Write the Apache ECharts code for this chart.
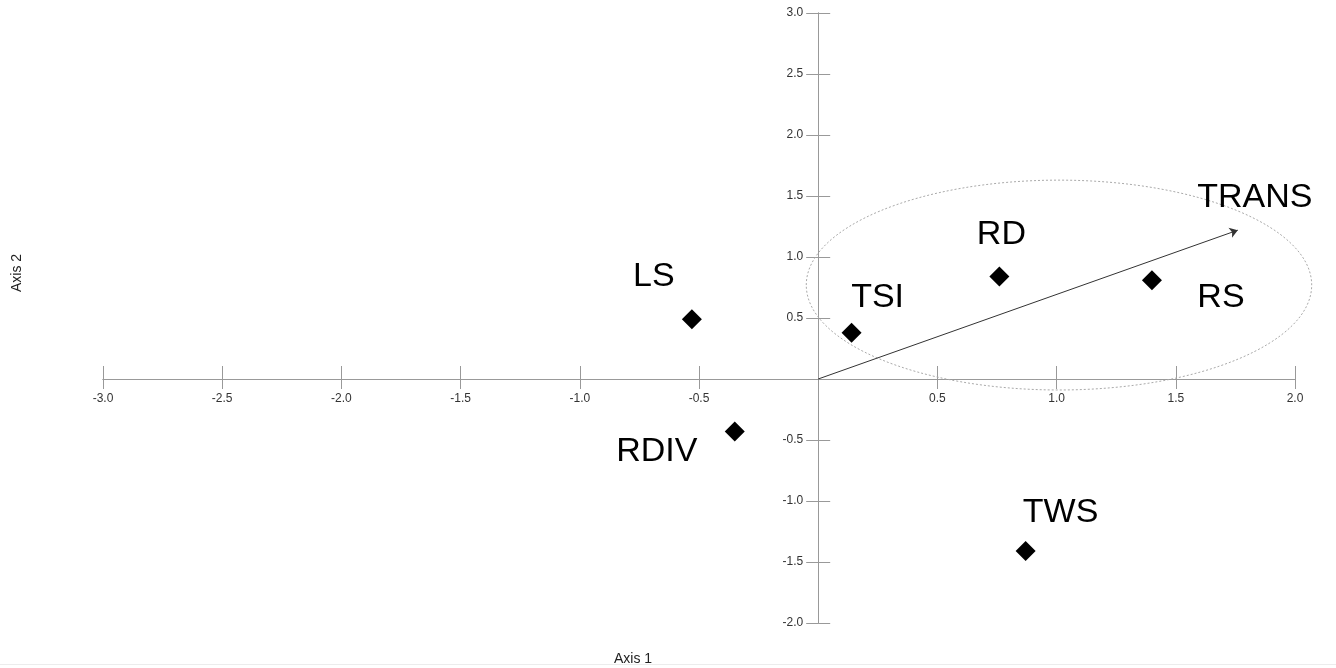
<!DOCTYPE html>
<html>
<head>
<meta charset="utf-8">
<title>Ordination plot</title>
<script src="https://cdn.jsdelivr.net/npm/echarts@6/dist/echarts.min.js"></script>
<style>
  html, body { margin: 0; padding: 0; background: #fff; }
  #chart { width: 1336px; height: 668px; }
</style>
</head>
<body>
<div id="chart"></div>
<script>
// variable scores on the two ordination axes
const variables = ['LS', 'TSI', 'RD', 'RS', 'RDIV', 'TWS'];
const axis1Scores = [-0.53, 0.14, 0.76, 1.40, -0.35, 0.87];
const axis2Scores = [0.49, 0.38, 0.84, 0.81, -0.43, -1.41];

// fitted vector (drawn from the origin)
const vectorNames = ['TRANS'];
const vectorAxis1 = [1.76];
const vectorAxis2 = [1.22];

// dotted ellipse: centre and radii in axis units
const ellipseCentre = [1.01, 0.77];
const ellipseRadii = [1.06, 0.86];

const axis1Range = [-3, 2];
const axis2Range = [-2, 3];
const tickStep = 0.5;

// label placement (pixels, relative to the marker)
const labelOffsets = {
  LS: [-38, -43], TSI: [26, -35], RD: [2, -42], RS: [69, 17],
  RDIV: [-78, 20], TWS: [35, -38], TRANS: [17, -33]
};

const FONT = '"Liberation Sans", Arial, sans-serif';
const axisGrey = '#999';

const W = 1336, H = 668;
const grid = { left: 103, right: 41, top: 13, bottom: 45 };
const plotW = W - grid.left - grid.right;
const plotH = H - grid.top - grid.bottom;

// pixel distance from each grid edge to the zero line (axes cross at the origin)
const zeroFromLeft = plotW * (0 - axis1Range[0]) / (axis1Range[1] - axis1Range[0]);
const zeroFromRight = plotW - zeroFromLeft;
const zeroFromTop = plotH * (axis2Range[1] - 0) / (axis2Range[1] - axis2Range[0]);
const zeroFromBottom = plotH - zeroFromTop;

const chart = echarts.init(document.getElementById('chart'));

// each axis is drawn twice so the ticks cross the axis line
const makeAxis = (range, position, offset, showLabel, tickLen, labelMargin) => ({
  type: 'value',
  min: range[0],
  max: range[1],
  interval: tickStep,
  position: position,
  offset: offset,
  axisLine: { onZero: false, lineStyle: { color: axisGrey, width: 1 } },
  axisTick: { show: true, length: tickLen, lineStyle: { color: axisGrey, width: 1 } },
  axisLabel: {
    show: showLabel,
    margin: labelMargin,
    color: '#333',
    fontSize: 12,
    fontFamily: FONT,
    formatter: v => (v === 0 ? '' : v.toFixed(1))
  },
  splitLine: { show: false }
});

const labelFor = name => ({
  show: true,
  position: 'inside',
  formatter: name,
  offset: labelOffsets[name],
  color: '#000',
  fontSize: 34,
  fontFamily: FONT
});

const pointData = variables.map((name, i) => ({
  name: name,
  value: [axis1Scores[i], axis2Scores[i]],
  label: labelFor(name)
}));

const vectorData = vectorNames.map((name, i) => ({
  coords: [[0, 0], [vectorAxis1[i], vectorAxis2[i]]]
}));

const vectorTips = vectorNames.map((name, i) => ({
  name: name,
  value: [vectorAxis1[i], vectorAxis2[i]],
  label: labelFor(name)
}));

const option = {
  animation: false,
  backgroundColor: '#fff',
  grid: { left: grid.left, right: grid.right, top: grid.top, bottom: grid.bottom, containLabel: false },
  xAxis: [
    makeAxis(axis1Range, 'bottom', -zeroFromBottom, true, 10, 14),
    makeAxis(axis1Range, 'top', -zeroFromTop, false, 13, 5)
  ],
  yAxis: [
    makeAxis(axis2Range, 'left', -zeroFromLeft, true, 12, 15),
    makeAxis(axis2Range, 'right', -zeroFromRight, false, 12, 3)
  ],
  graphic: [
    {
      type: 'text', x: 17, y: 273, rotation: Math.PI / 2,
      style: { text: 'Axis 2', font: '14px ' + FONT, fill: '#222', textAlign: 'center', textVerticalAlign: 'middle' }
    },
    {
      type: 'text', x: 633, y: 659,
      style: { text: 'Axis 1', font: '14px ' + FONT, fill: '#222', textAlign: 'center', textVerticalAlign: 'middle' }
    },
    {
      type: 'line', shape: { x1: 0, y1: 664.5, x2: W, y2: 664.5 },
      style: { stroke: '#ececec', lineWidth: 1 }
    }
  ],
  series: [
    {
      type: 'custom',
      xAxisIndex: 0,
      yAxisIndex: 0,
      silent: true,
      z: 1,
      data: [[ellipseCentre[0], ellipseCentre[1], ellipseRadii[0], ellipseRadii[1]]],
      renderItem: (params, api) => {
        const c = api.coord([api.value(0), api.value(1)]);
        const s = api.size([api.value(2), api.value(3)]);
        return {
          type: 'ellipse',
          shape: { cx: c[0], cy: c[1], rx: s[0], ry: s[1] },
          style: { fill: 'none', stroke: '#aaa', lineWidth: 1, lineDash: [2, 2] }
        };
      }
    },
    {
      type: 'lines',
      coordinateSystem: 'cartesian2d',
      xAxisIndex: 0,
      yAxisIndex: 0,
      silent: true,
      z: 2,
      symbol: ['none', 'arrow'],
      symbolSize: 8,
      lineStyle: { color: '#333', width: 1, opacity: 1, curveness: 0 },
      data: vectorData
    },
    {
      type: 'scatter',
      xAxisIndex: 0,
      yAxisIndex: 0,
      symbolSize: 0,
      silent: true,
      z: 3,
      itemStyle: { opacity: 1 },
      data: vectorTips
    },
    {
      type: 'scatter',
      xAxisIndex: 0,
      yAxisIndex: 0,
      symbol: 'diamond',
      symbolSize: 20,
      itemStyle: { color: '#000', opacity: 1 },
      z: 4,
      data: pointData
    }
  ]
};

chart.setOption(option);
</script>
</body>
</html>
